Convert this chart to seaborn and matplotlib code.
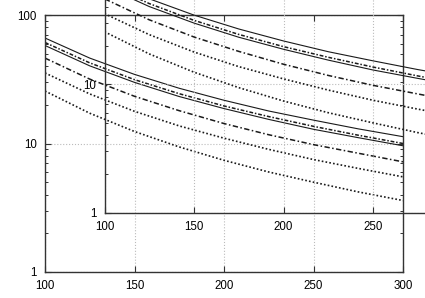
import numpy as np
import pandas as pd
import matplotlib
matplotlib.use("Agg")
import matplotlib.pyplot as plt
import matplotlib.ticker as mticker
import seaborn as sns

sns.set_theme(style="ticks")
plt.rcParams['font.family'] = ['Liberation Sans', 'DejaVu Sans']

# values
x_vals = [100, 125, 150, 175, 200, 225, 250, 275, 300]
curve_a = [66.2, 46.2, 34.5, 26.9, 21.7, 17.9, 15.2, 13.0, 11.3]
curve_c = [61.1, 42.4, 31.4, 24.4, 19.6, 16.2, 13.6, 11.6, 10.0]
curve_b = [57.9, 40.2, 29.9, 23.2, 18.7, 15.4, 12.9, 11.1, 9.6]
curve_d = [46.2, 31.7, 23.3, 18.0, 14.3, 11.7, 9.8, 8.4, 7.2]
curve_e = [35.4, 24.3, 17.8, 13.7, 11.0, 9.0, 7.5, 6.4, 5.5]
curve_f = [25.6, 17.2, 12.4, 9.4, 7.4, 6.0, 5.0, 4.2, 3.6]

x_ticks = [100, 150, 200, 250, 300]
x_ticklabels = ["100", "150", "200", "250", "300"]
y_ticks = [1, 10, 100]
y_ticklabels = ["1", "10", "100"]

curves = [curve_a, curve_c, curve_b, curve_d, curve_e, curve_f]
styles = [
    "-",
    (0, (2.5, 1.2, 1, 1.2)),
    "-",
    (0, (3.5, 1.6, 1, 1.6)),
    (0, (1, 1.3)),
    (0, (1, 1.3)),
]
widths = [0.8, 1.1, 0.8, 1.1, 1.2, 1.2]


def draw_panel(ax, xlabels, ylabels):
    for vals, ls, lw in zip(curves, styles, widths):
        sns.lineplot(x=x_vals, y=vals, ax=ax, color="#1a1a1a", linestyle=ls,
                     linewidth=lw, legend=False)
    ax.set_yscale("log")
    ax.set_xlim(100, 300)
    ax.set_ylim(1, 100)
    ax.set_xticks(x_ticks)
    ax.set_xticklabels(xlabels)
    ax.set_yticks(y_ticks)
    ax.set_yticklabels(ylabels)
    ax.yaxis.set_minor_locator(mticker.LogLocator(base=10, subs=np.arange(2, 10)))
    ax.yaxis.set_minor_formatter(mticker.NullFormatter())
    ax.xaxis.set_minor_locator(mticker.NullLocator())
    ax.tick_params(which="both", direction="in", top=True, right=True,
                   labelsize=8.3, pad=6, color="#333333", labelcolor="black")
    ax.tick_params(which="major", length=4, width=0.8)
    ax.tick_params(which="minor", length=2.5, width=0.7)
    ax.grid(True, which="major", color="#bbbbbb", linestyle=":", linewidth=0.8)
    ax.set_axisbelow(True)
    for sp in ax.spines.values():
        sp.set_color("#333333")
        sp.set_linewidth(1.0)
    ax.set_xlabel("")
    ax.set_ylabel("")


fig = plt.figure(figsize=(4.25, 2.98), dpi=100)
w, h = 358 / 425, 257 / 298
ax_main = fig.add_axes([45 / 425, (298 - 272) / 298, w, h])
draw_panel(ax_main, x_ticklabels, y_ticklabels)

# second copy of the same plot, shifted up and to the right;
# its "300" and "100" labels fall outside the figure, so leave them blank
ax_inset = fig.add_axes([104.5 / 425, (298 - 212.7) / 298, w, h])
ax_inset.set_facecolor("none")
draw_panel(ax_inset, x_ticklabels[:-1] + [""], y_ticklabels[:-1] + [""])

fig.savefig("out.png", dpi=100)
